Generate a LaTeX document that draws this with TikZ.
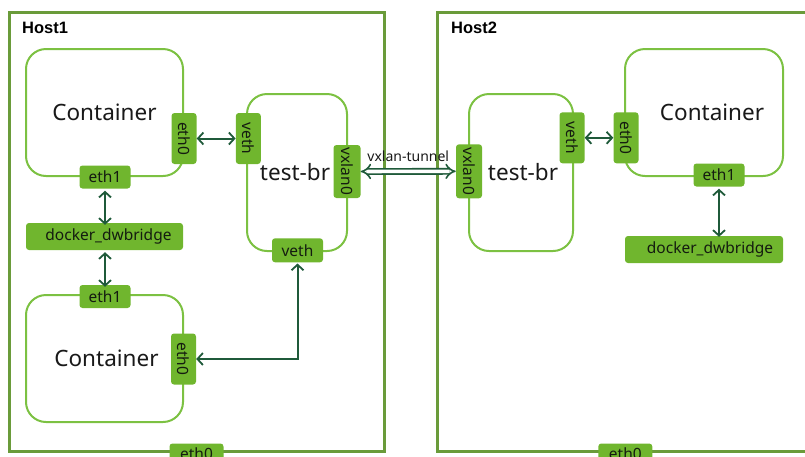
\documentclass[tikz,border=0pt]{standalone}
\usepackage{fontspec}
\setmainfont{Noto Sans}
\newfontfamily\hostfont{Liberation Sans}
\usetikzlibrary{arrows.meta}
\definecolor{framegreen}{HTML}{6A9B3A}
\definecolor{boxgreen}{HTML}{7CC142}
\definecolor{portgreen}{HTML}{70B62E}
\definecolor{linkgreen}{HTML}{1F5A3A}
\definecolor{porttext}{HTML}{141C10}
\begin{document}
\begin{tikzpicture}[x=1pt,y=-1pt,
  frame/.style={draw=framegreen, line width=3pt},
  box/.style={draw=boxgreen, line width=2pt, rounded corners=20pt, fill=white,
    inner sep=0pt, font=\fontsize{22.5}{24}\selectfont, text=black!90},
  hport/.style={fill=portgreen, draw=none, rounded corners=3pt, inner sep=0pt,
    minimum width=51pt, minimum height=23pt, text=porttext,
    font=\fontsize{15.5}{16}\selectfont},
  vport/.style={hport, rotate=-90, minimum width=51pt, minimum height=25pt},
  hostlabel/.style={anchor=base west, inner sep=0pt,
    font=\hostfont\bfseries\fontsize{16.5}{18}\selectfont},
  barb/.tip={Straight Barb[length=5.5pt, width=12pt, line width=1.8pt]},
  link/.style={draw=linkgreen, line width=2pt, barb-barb},
  tunnel/.style={draw=linkgreen, line width=1.6pt, double=white,
    double distance=3.6pt, {Implies}-{Implies}},
]
\useasboundingbox (0,0) rectangle (805,456);
\clip (0,0) rectangle (805,456);

% host frames
\draw[frame] (9.5,12.5) rectangle (384,451);
\draw[frame] (437.5,12.5) rectangle (830,451);
\node[hostlabel] (h1) at (22,33) {Host1};
\node[hostlabel] (h2) at (451,33) {Host2};

% ---- Host1 ----
\node[box, minimum width=157pt, minimum height=127pt] (c1) at (104.5,112.5) {Container};
\node[box, minimum width=157pt, minimum height=127pt] (c2) at (104.5,358.5) {\hspace*{4pt}Container};
\node[box, minimum width=100pt, minimum height=157pt] (tb1) at (297,172.5) {\hspace*{-4pt}test-br};
\node[hport, minimum width=157pt, minimum height=27pt] (dk1) at (104.5,236.5) {\hspace*{8pt}docker\_dwbridge};

\node[vport] (c1e0) at (184,138.5) {eth0};
\node[hport] (c1e1) at (105,177) {eth1};
\node[hport] (c2e1) at (105,296.5) {eth1};
\node[vport] (c2e0) at (183.5,359) {eth0};
\node[vport] (tb1v) at (248.3,138.5) {veth};
\node[vport, minimum width=53pt, minimum height=27pt] (tb1x) at (347,171.5) {vxlan0};
\node[hport, minimum height=24pt] (tb1b) at (297.5,250.3) {veth};
\node[hport, minimum width=54pt] (h1e0) at (196.5,455) {\raisebox{2pt}{eth0}};

% ---- Host2 ----
\node[box, minimum width=104pt, minimum height=157pt] (tb2) at (521,172.5) {\hspace*{4pt}test-br};
\node[box, minimum width=158pt, minimum height=127pt,
  label={[font=\fontsize{22.5}{24}\selectfont, text=black!90, xshift=8pt]center:Container}] (c3) at (704,112.5) {};
\node[hport, minimum width=158pt, minimum height=27pt] (dk2) at (704,249.5) {\hspace*{12pt}docker\_dwbridge};

\node[vport, minimum width=54pt, minimum height=26pt] (tb2x) at (469,171.3) {vxlan0};
\node[vport] (tb2v) at (572,137.8) {veth};
\node[vport] (c3e0) at (626,137.8) {eth0};
\node[hport] (c3e1) at (719,175) {eth1};
\node[hport, minimum width=54pt] (h2e0) at (625.3,455) {\raisebox{2pt}{eth0}};

% ---- links ----
\draw[link] (c1e0) -- (tb1v);
\draw[link] ([yshift=-2pt]c1e1.south) -- ([yshift=-2pt]c1e1.south |- dk1.north);
\draw[link] ([yshift=-2pt]c2e1.north |- dk1.south) -- ([yshift=-2pt]c2e1.north);
\draw[link] (c2e0) -| ([yshift=-1pt]tb1b.south);
\draw[link] (tb2v) -- (c3e0);
\draw[link] ([yshift=-2pt]c3e1.south) -- ([yshift=-1pt]c3e1.south |- dk2.north);

% tunnel between the two bridges
\draw[tunnel] (tb1x) -- node[above=9pt, inner sep=0pt, text=black!90,
  font=\fontsize{14}{15}\selectfont] (tl) {vxlan-tunnel} (tb2x);
\end{tikzpicture}
\end{document}
